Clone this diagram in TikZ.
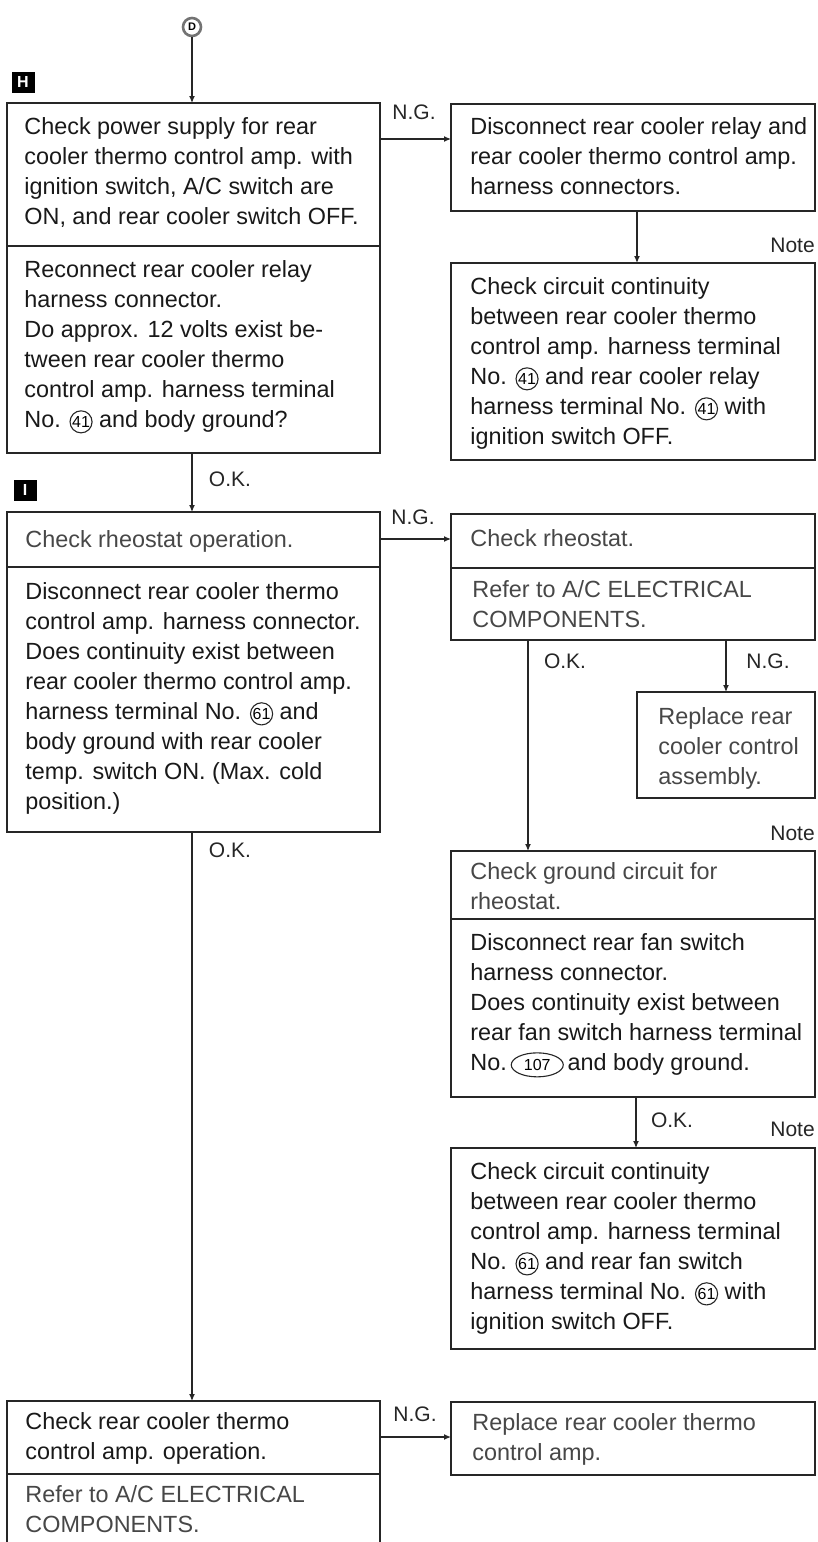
\documentclass[tikz,border=0pt]{standalone}
\usepackage{fontspec}
\setmainfont{Liberation Sans}
\usetikzlibrary{arrows.meta,shapes.geometric}
\newcommand{\cnum}[1]{\tikz[baseline=(cnumnode.base)]\node[draw=black!85,circle,line width=0.55pt,inner sep=0.2pt,font=\fontsize{8}{9}\selectfont,text=black](cnumnode){#1};}
\newcommand{\onum}[1]{\tikz[baseline=(onumnode.base)]\node[draw=black!85,ellipse,line width=0.55pt,inner xsep=1.5pt,inner ysep=0.2pt,minimum height=12pt,minimum width=26pt,font=\fontsize{8}{9}\selectfont,text=black](onumnode){#1};}
\tikzset{
  box/.style={draw=black!85,line width=0.9pt,anchor=north west,inner sep=0pt,outer sep=0pt},
  txt/.style={anchor=north west,inner sep=0pt,align=left,text=black!90,font=\fontsize{11.7}{15}\selectfont},
  faint/.style={text=black!72},
  lbl/.style={inner sep=0pt,text=black!85,font=\fontsize{10.5}{12}\selectfont},
  arr/.style={draw=black!85,line width=0.6pt,-{Latex[length=3.5pt,width=3pt]}},
  divider/.style={draw=black!85,line width=0.9pt},
  tag/.style={fill=black,text=white,inner sep=0pt,minimum width=11.5pt,minimum height=10.5pt,font=\bfseries\fontsize{8}{8}\selectfont}
}
\begin{document}
\begin{tikzpicture}[x=0.5pt,y=-0.5pt]
\useasboundingbox (0,0) rectangle (818,1542);
\fill[white] (0,0) rectangle (818,1542);
\clip (0,0) rectangle (818,1542);

% start symbol and tags
\node[circle,draw=black!55,line width=1.3pt,minimum size=9pt,inner sep=0pt,font=\bfseries\fontsize{5.5}{6}\selectfont] (startD) at (192,27) {D};
\node[tag] (tagH) at (23,82) {H};
\node[tag] (tagI) at (25,490) {I};

% boxes
\node[box,minimum width=186.5pt,minimum height=175pt] (Hbox) at (7,103) {};
\node[box,minimum width=182pt,minimum height=53.5pt] (R1) at (451,104) {};
\node[box,minimum width=182pt,minimum height=98.5pt] (R2) at (451,263) {};
\node[box,minimum width=186.5pt,minimum height=160pt] (Ibox) at (7,512) {};
\node[box,minimum width=182pt,minimum height=63pt] (Rh) at (451,514) {};
\node[box,minimum width=89pt,minimum height=53pt] (Rep) at (637,692) {};
\node[box,minimum width=182pt,minimum height=123pt] (Gbox) at (451,851) {};
\node[box,minimum width=182pt,minimum height=100.5pt] (Cbox) at (451,1148) {};
\node[box,minimum width=186.5pt,minimum height=74pt] (BL) at (7,1401) {};
\node[box,minimum width=182pt,minimum height=36.5pt] (BR) at (451,1402) {};

% dividers
\draw[divider] (Hbox.west |- 0,246) -- (Hbox.east |- 0,246);
\draw[divider] (Ibox.west |- 0,567) -- (Ibox.east |- 0,567);
\draw[divider] (Rh.west |- 0,568) -- (Rh.east |- 0,568);
\draw[divider] (Gbox.west |- 0,919) -- (Gbox.east |- 0,919);
\draw[divider] (BL.west |- 0,1474) -- (BL.east |- 0,1474);

% texts
\node[txt] (tH1) at (24,117) {Check power supply for rear\\cooler thermo control amp. with\\ignition switch, A/C switch are\\ON, and rear cooler switch OFF.};
\node[txt] (tH2) at (24,260) {Reconnect rear cooler relay\\harness connector.\\Do approx. 12 volts exist be-\\tween rear cooler thermo\\control amp. harness terminal\\No. \cnum{41} and body ground?};
\node[txt] (tR1) at (470,117) {Disconnect rear cooler relay and\\rear cooler thermo control amp.\\harness connectors.};
\node[txt] (tR2) at (470,277) {Check circuit continuity\\between rear cooler thermo\\control amp. harness terminal\\No. \cnum{41} and rear cooler relay\\harness terminal No. \cnum{41} with\\ignition switch OFF.};
\node[txt,faint] (tI1) at (25,530) {Check rheostat operation.};
\node[txt] (tI2) at (25,582) {Disconnect rear cooler thermo\\control amp. harness connector.\\Does continuity exist between\\rear cooler thermo control amp.\\harness terminal No. \cnum{61} and\\body ground with rear cooler\\temp. switch ON. (Max. cold\\position.)};
\node[txt,faint] (tRh1) at (470,529) {Check rheostat.};
\node[txt,faint] (tRh2) at (472,580) {Refer to A/C ELECTRICAL\\COMPONENTS.};
\node[txt,faint] (tRep) at (658,707) {Replace rear\\cooler control\\assembly.};
\node[txt,faint] (tG1) at (470,862) {Check ground circuit for\\rheostat.};
\node[txt] (tG2) at (470,933) {Disconnect rear fan switch\\harness connector.\\Does continuity exist between\\rear fan switch harness terminal\\No.\,\onum{107}\,and body ground.};
\node[txt] (tC) at (470,1162) {Check circuit continuity\\between rear cooler thermo\\control amp. harness terminal\\No. \cnum{61} and rear fan switch\\harness terminal No. \cnum{61} with\\ignition switch OFF.};
\node[txt] (tBL1) at (25,1412) {Check rear cooler thermo\\control amp. operation.};
\node[txt,faint] (tBL2) at (25,1485) {Refer to A/C ELECTRICAL\\COMPONENTS.};
\node[txt,faint] (tBR) at (472,1413) {Replace rear cooler thermo\\control amp.};

% connectors
\draw[arr] (startD) -- (Hbox.north -| startD);
\draw[arr] (Hbox.south -| startD) -- (Ibox.north -| startD);
\draw[arr] (Hbox.east |- 0,139) -- (R1.west |- 0,139);
\draw[arr] (R1.south -| 637,0) -- (R2.north -| 637,0);
\draw[arr] (Ibox.east |- 0,539) -- (Rh.west |- 0,539);
\draw[arr] (Rh.south -| 528,0) -- (Gbox.north -| 528,0);
\draw[arr] (Rh.south -| Rep.north) -- (Rep.north);
\draw[arr] (Gbox.south -| 636,0) -- (Cbox.north -| 636,0);
\draw[arr] (Ibox.south -| startD) -- (BL.north -| startD);
\draw[arr] (BL.east |- 0,1437) -- (BR.west |- 0,1437);

% connector labels
\node[lbl] (okA) at (230,479) {O.K.};
\node[lbl] (ngA) at (414,112) {N.G.};
\node[lbl,anchor=west] (noteA) at (770,245) {Note};
\node[lbl] (ngB) at (413,517) {N.G.};
\node[lbl] (okB) at (565,661) {O.K.};
\node[lbl] (ngC) at (768,661) {N.G.};
\node[lbl,anchor=west] (noteB) at (770,833) {Note};
\node[lbl] (okC) at (230,850) {O.K.};
\node[lbl] (okD) at (672,1120) {O.K.};
\node[lbl,anchor=west] (noteC) at (770,1129) {Note};
\node[lbl] (ngD) at (415,1414) {N.G.};
\end{tikzpicture}
\end{document}
